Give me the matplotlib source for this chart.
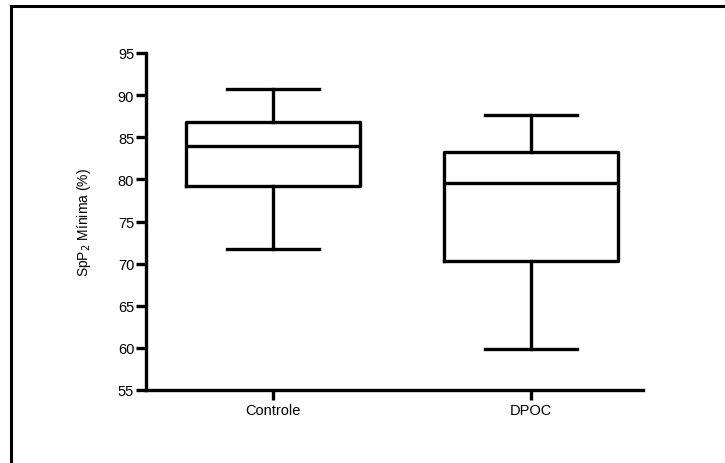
import matplotlib
matplotlib.use("Agg")
import matplotlib.pyplot as plt
from matplotlib.patches import Rectangle

categories = ["Controle", "DPOC"]
whislo = [71.7, 59.9]
q1 = [79.2, 70.3]
med = [84.0, 79.6]
q3 = [86.8, 83.2]
whishi = [90.7, 87.7]
yticks = [55, 60, 65, 70, 75, 80, 85, 90, 95]

plt.rcParams['font.family'] = ['Liberation Sans', 'DejaVu Sans']

fig = plt.figure(figsize=(7.25, 4.64), dpi=100)
ax = fig.add_axes([146/725, 1-391/464, (643-146)/725, (391-54)/464])

stats = []
for i, c in enumerate(categories):
    stats.append(dict(label=c, whislo=whislo[i], q1=q1[i], med=med[i],
                      q3=q3[i], whishi=whishi[i], fliers=[]))

lw = 2.4
ax.bxp(stats, positions=[1, 2], widths=0.675, showfliers=False,
       boxprops=dict(color='black', linewidth=lw),
       medianprops=dict(color='black', linewidth=lw),
       whiskerprops=dict(color='black', linewidth=lw),
       capprops=dict(color='black', linewidth=lw),
       capwidths=0.353)

ax.set_xlim(0.508, 2.434)
ax.set_ylim(55, 95)
ax.set_yticks(yticks)
ax.set_xticks([1, 2])
ax.set_xticklabels(categories)
for s in ['top', 'right']:
    ax.spines[s].set_visible(False)
for s in ['left', 'bottom']:
    ax.spines[s].set_linewidth(lw)
ax.tick_params(axis='both', length=7, width=lw, labelsize=10.5, pad=1.5)
ax.tick_params(axis='x', pad=2.5)
ax.set_ylabel("SpP$_2$ Mínima (%)", fontsize=10, labelpad=18)

fig.patches.append(Rectangle((11/725, -0.1), 1.2, 1 - 7/464 + 0.1,
                             transform=fig.transFigure, fill=False,
                             edgecolor='black', linewidth=2.2))

fig.savefig("out.png", dpi=100)
